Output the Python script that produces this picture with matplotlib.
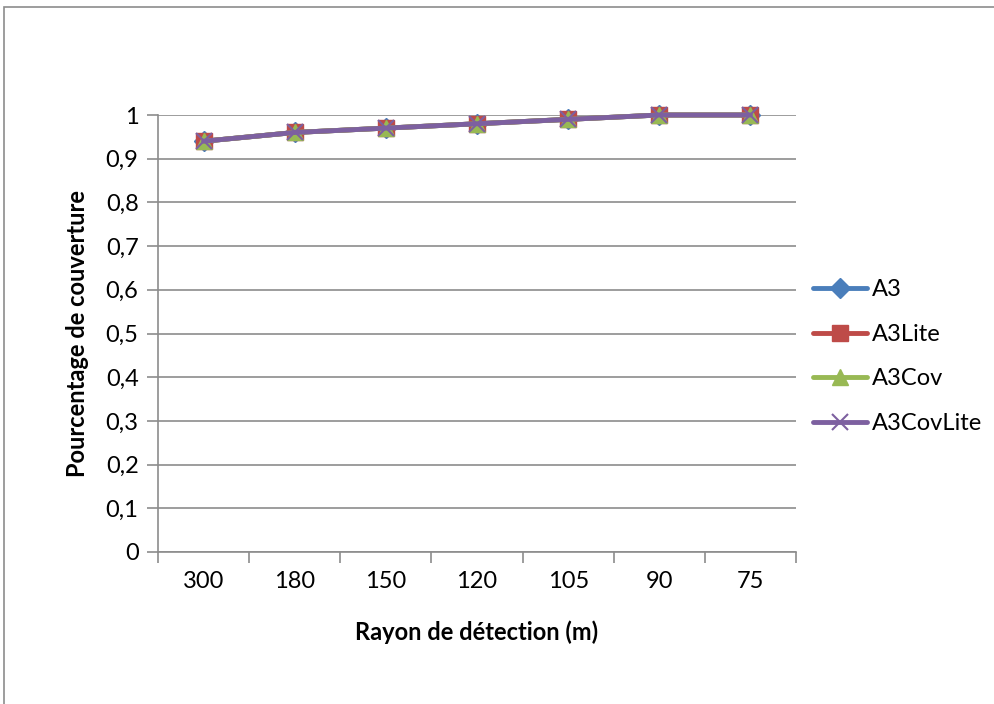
import matplotlib.pyplot as plt
from matplotlib.patches import Rectangle

categories = ["300", "180", "150", "120", "105", "90", "75"]
a3 = [0.94, 0.96, 0.97, 0.98, 0.99, 1.0, 1.0]
a3_lite = [0.94, 0.96, 0.97, 0.98, 0.99, 1.0, 1.0]
a3_cov = [0.94, 0.96, 0.97, 0.98, 0.99, 1.0, 1.0]
a3_cov_lite = [0.94, 0.96, 0.97, 0.98, 0.99, 1.0, 1.0]
y_ticks = [0, 0.1, 0.2, 0.3, 0.4, 0.5, 0.6, 0.7, 0.8, 0.9, 1]

plt.rcParams['font.family'] = ['Lato', 'DejaVu Sans']
fs = 17

fig = plt.figure(figsize=(9.95, 7.04), dpi=100)
# outer chart border
fig.patches.append(Rectangle((4 / 995, -0.1), 1.2, 1 - 7 / 704 + 0.1,
                             transform=fig.transFigure, fill=False,
                             edgecolor='#8c8c8c', linewidth=1.2))

ax = fig.add_axes([158 / 995, 1 - 552 / 704, (796 - 158) / 995, (552 - 115) / 704])

x = range(len(categories))
series = [
    ("A3", a3, '#4A7EBB', 'D', 10),
    ("A3Lite", a3_lite, '#BE4B48', 's', 11.5),
    ("A3Cov", a3_cov, '#98B954', '^', 11),
    ("A3CovLite", a3_cov_lite, '#7D60A0', 'x', 11),
]
for name, vals, col, mk, ms in series:
    if mk == 'x':
        ax.plot(x, vals, color=col, linewidth=3.5, marker=mk, markersize=ms,
                markeredgewidth=1.5, label=name, solid_capstyle='round',
                clip_on=False)
    else:
        ax.plot(x, vals, color=col, linewidth=3.5, marker=mk, markersize=ms,
                markeredgecolor=col, label=name, solid_capstyle='round',
                clip_on=False)

ax.set_xlim(-0.5, len(categories) - 0.5)
ax.set_ylim(0, 1)
ax.set_yticks(y_ticks)
ax.set_yticklabels([("%g" % v).replace('.', ',') for v in y_ticks])
ax.yaxis.grid(True, color='#8c8c8c', linewidth=1.2)
ax.set_axisbelow(True)

ax.set_xticks([i - 0.5 for i in range(len(categories) + 1)])
ax.set_xticklabels([])
ax.set_xticks(list(x), minor=True)
ax.set_xticklabels(categories, minor=True)
ax.tick_params(axis='x', which='minor', length=0, pad=14, labelsize=fs)
ax.tick_params(axis='x', which='major', length=8, width=1.2, color='#8c8c8c')
ax.tick_params(axis='y', length=8, width=1.2, color='#8c8c8c', labelsize=fs, pad=6)

for s in ['top', 'right']:
    ax.spines[s].set_visible(False)
for s in ['left', 'bottom']:
    ax.spines[s].set_color('#8c8c8c')
    ax.spines[s].set_linewidth(1.2)

ax.set_xlabel("Rayon de détection (m)", fontsize=fs, fontweight='bold', labelpad=20)
ax.set_ylabel("Pourcentage de couverture", fontsize=fs, fontweight='bold', labelpad=12)

ax.legend(loc='center left', bbox_to_anchor=(1.0, 0.447), frameon=False,
          fontsize=fs, handlelength=2.3, labelspacing=1.0, handletextpad=0.2,
          borderaxespad=0.3)

fig.savefig("out.png", dpi=100)
